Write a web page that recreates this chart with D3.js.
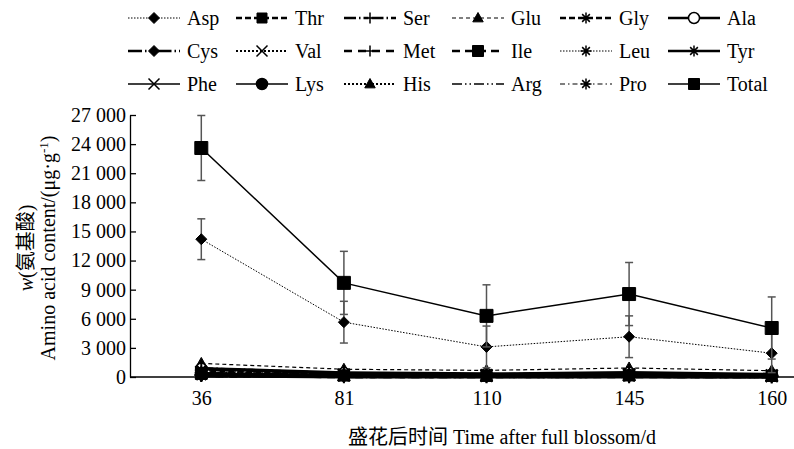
<!DOCTYPE html>
<html><head><meta charset="utf-8">
<script src="https://cdn.jsdelivr.net/npm/d3@7/dist/d3.min.js"></script>
<style>body{margin:0;background:#fff}svg{display:block}</style>
</head><body>
<svg id="c" width="794" height="449" font-family="'Liberation Serif', 'Noto Sans CJK SC', serif"></svg>
<script>
const days = [36, 81, 110, 145, 160];
const yTicks = [0, 3000, 6000, 9000, 12000, 15000, 18000, 21000, 24000, 27000];
const seriesNames = ["Asp","Thr","Ser","Glu","Gly","Ala","Cys","Val","Met","Ile","Leu","Tyr","Phe","Lys","His","Arg","Pro","Total"];
const Asp   = [14200, 5650, 3100, 4150, 2450];
const Thr   = [650, 300, 220, 320, 180];
const Ser   = [900, 380, 280, 400, 220];
const Glu   = [1400, 800, 680, 930, 650];
const Gly   = [400, 180, 140, 200, 120];
const Ala   = [850, 420, 300, 430, 260];
const Cys   = [150, 60, 50, 70, 50];
const Val   = [500, 230, 180, 250, 150];
const Met   = [120, 50, 40, 50, 40];
const Ile   = [330, 150, 110, 160, 100];
const Leu   = [450, 200, 150, 210, 130];
const Tyr   = [200, 80, 70, 90, 60];
const Phe   = [380, 170, 130, 180, 110];
const Lys   = [420, 190, 150, 200, 120];
const His   = [250, 100, 80, 110, 70];
const Arg   = [350, 160, 120, 170, 100];
const Pro   = [700, 300, 240, 330, 190];
const Total = [23600, 9700, 6300, 8550, 5050];
const aspErr   = [2100, 2150, 2150, 2150, 2000];
const totalErr = [3350, 3250, 3200, 3250, 3200];

const values = {Asp,Thr,Ser,Glu,Gly,Ala,Cys,Val,Met,Ile,Leu,Tyr,Phe,Lys,His,Arg,Pro,Total};
const errors = {Asp: aspErr, Total: totalErr};

const styles = {
  Asp:  {w:1,   dash:"1.5,1.5", m:"diamond", r:5.5},
  Thr:  {w:2.5, dash:"6,3",     m:"square",  r:5},
  Ser:  {w:2.5, dash:"12,3,1.5,3,5,3", m:"plus", r:6},
  Glu:  {w:1.2, dash:"4,3",     m:"triangle",r:6},
  Gly:  {w:2.5, dash:"6,3",     m:"asterisk",r:6.5},
  Ala:  {w:3.5, dash:null,      m:"ocircle", r:5.5},
  Cys:  {w:3.5, dash:"14,3,1.5,3,5,3", m:"diamond", r:6},
  Val:  {w:2,   dash:"2,2",     m:"x",       r:6},
  Met:  {w:3.5, dash:"8,6",     m:"plus",    r:6},
  Ile:  {w:3.5, dash:"8,5",     m:"square",  r:5.5},
  Leu:  {w:1,   dash:"1.5,1.5", m:"asterisk",r:6.5},
  Tyr:  {w:4.5, dash:null,      m:"asterisk",r:7},
  Phe:  {w:1.5, dash:null,      m:"x",       r:6},
  Lys:  {w:1.5, dash:null,      m:"circle",  r:5.5},
  His:  {w:2,   dash:"2,2",     m:"triangle",r:6.5},
  Arg:  {w:1.3, dash:"10,3,1.5,3,1.5,3", m:null, r:0},
  Pro:  {w:1.2, dash:"5,3,1.5,3", m:"asterisk", r:6.5},
  Total:{w:1.5, dash:null,      m:"square",  r:6.5}
};
const FONT = "'Liberation Serif', 'Noto Sans CJK SC', serif";

const svg = d3.select("#c");
const x = d3.scalePoint().domain(days).range([130, 843]).padding(0.5);
const y = d3.scaleLinear().domain([0, 27000]).range([377, 115]);
const loc = d3.formatLocale({decimal:".", thousands:" ", grouping:[3], currency:["",""]});
const fmt = loc.format(",");

const yAxis = svg.append("g").attr("transform","translate(130,0)")
  .call(d3.axisLeft(y).tickValues(yTicks).tickFormat(fmt).tickSizeInner(-6).tickSizeOuter(0).tickPadding(4));
const xAxis = svg.append("g").attr("transform","translate(0,377)")
  .call(d3.axisBottom(x).tickSizeInner(0).tickSizeOuter(0).tickPadding(14));
[yAxis, xAxis].forEach(a => {
  a.attr("font-family", FONT).attr("font-size", 20);
  a.selectAll("path,line").attr("stroke","#000").attr("stroke-width",1.3);
  a.selectAll("text").attr("fill","#000");
});
xAxis.select("path").attr("d","M130,0H794");

function markerPath(t, r){
  switch(t){
    case "diamond": return `M0,${-r}L${r},0L0,${r}L${-r},0Z`;
    case "square": return `M${-r},${-r}H${r}V${r}H${-r}Z`;
    case "triangle": return `M0,${-r}L${r*0.95},${r*0.7}L${-r*0.95},${r*0.7}Z`;
    case "plus": return `M${-r},0H${r}M0,${-r}V${r}`;
    case "x": return `M${-r},${-r}L${r},${r}M${-r},${r}L${r},${-r}`;
    case "asterisk": { const a=r*0.7; return `M${-r},0H${r}M${-a},${-a}L${a},${a}M${-a},${a}L${a},${-a}M0,${-r}V${r}`; }
  }
  return "";
}
function drawMarker(g, t, r, cx, cy, sw){
  if(!t) return;
  if(t==="circle" || t==="ocircle"){
    g.append("circle").attr("cx",cx).attr("cy",cy).attr("r",r)
      .attr("fill", t==="circle"?"#000":"#fff").attr("stroke","#000").attr("stroke-width",1.5);
    return;
  }
  const filled = ["diamond","square","triangle"].includes(t);
  g.append("path").attr("d", markerPath(t,r)).attr("transform",`translate(${cx},${cy})`)
    .attr("fill", filled?"#000":"none").attr("stroke","#000").attr("stroke-width", filled?1:sw);
}

const line = d3.line().x(d=>x(d[0])).y(d=>y(d[1]));
const plot = svg.append("g");
const order = seriesNames.filter(n=>n!=="Asp"&&n!=="Total").concat(["Asp","Total"]);
order.forEach(name=>{
  const s = styles[name];
  const pts = days.map((d,i)=>[d, values[name][i]]);
  const g = plot.append("g");
  if(errors[name]){
    const eg = g.append("g").attr("stroke","#555").attr("stroke-width",1.5);
    days.forEach((d,i)=>{
      const v = values[name][i], e = errors[name][i];
      const cx = x(d), y1 = y(v+e), y0 = y(Math.max(0,v-e));
      eg.append("line").attr("x1",cx).attr("x2",cx).attr("y1",y1).attr("y2",y0);
      eg.append("line").attr("x1",cx-4).attr("x2",cx+4).attr("y1",y1).attr("y2",y1);
      eg.append("line").attr("x1",cx-4).attr("x2",cx+4).attr("y1",y0).attr("y2",y0);
    });
  }
  g.append("path").attr("d", line(pts)).attr("fill","none").attr("stroke","#000")
    .attr("stroke-width", s.w).attr("stroke-dasharray", s.dash);
  pts.forEach(p=>drawMarker(g, s.m, s.r, x(p[0]), y(p[1]), 2));
});

const colX = [128, 236, 344, 452, 560, 668];
const rowY = [18, 51, 84];
seriesNames.forEach((name,i)=>{
  const s = styles[name];
  const lx = colX[i%6], ly = rowY[Math.floor(i/6)];
  const g = svg.append("g");
  g.append("line").attr("x1",lx).attr("x2",lx+52).attr("y1",ly).attr("y2",ly)
    .attr("stroke","#000").attr("stroke-width", Math.min(s.w,2.5)).attr("stroke-dasharray", s.dash);
  drawMarker(g, s.m, Math.min(s.r,5.5), lx+26, ly, 1.5);
  g.append("text").attr("x",lx+59).attr("y",ly+7).attr("font-family",FONT).attr("font-size",20).text(name);
});

svg.append("text").attr("transform","translate(33,248) rotate(-90)").attr("text-anchor","middle")
  .attr("font-family",FONT).attr("font-size",20).html('<tspan font-style="italic">w</tspan>(氨基酸)');
svg.append("text").attr("transform","translate(55,248) rotate(-90)").attr("text-anchor","middle")
  .attr("font-family",FONT).attr("font-size",20).html('Amino acid content/(μg·g<tspan dy="-7" font-size="13">-1</tspan><tspan dy="7">)</tspan>');
svg.append("text").attr("x",502).attr("y",444).attr("text-anchor","middle")
  .attr("font-family",FONT).attr("font-size",20).text("盛花后时间 Time after full blossom/d");
</script>
</body></html>
